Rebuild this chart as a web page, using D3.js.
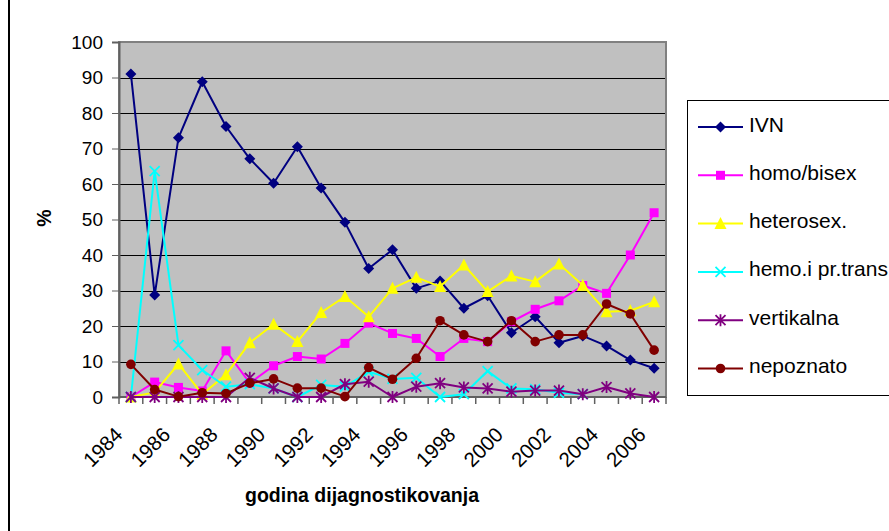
<!DOCTYPE html>
<html>
<head>
<meta charset="utf-8">
<script src="https://cdn.jsdelivr.net/npm/d3@7"></script>
<style>
  html, body { margin: 0; padding: 0; background: #fff; }
  svg { display: block; }
  text { font-family: "Liberation Sans", Arial, sans-serif; fill: #000; }
</style>
</head>
<body>
<svg id="chart" width="889" height="531"></svg>
<script>
const years = d3.range(1984, 2007);
const tickLabels = ["1984","1986","1988","1990","1992","1994","1996","1998","2000","2002","2004","2006"];
const yTicks = [0,10,20,30,40,50,60,70,80,90,100];

const ivn        = [91, 28.7, 73, 88.8, 76.2, 67.1, 60.2, 70.5, 58.9, 49.2, 36.2, 41.5, 30.6, 32.7, 25, 28.5, 18.1, 22.6, 15.3, 17.2, 14.4, 10.4, 8.1];
const homo       = [0, 4.2, 2.7, 1.7, 13, 3.9, 8.8, 11.4, 10.7, 15.1, 20.8, 17.9, 16.5, 11.4, 16.5, 15.6, 21.2, 24.7, 27.1, 31.4, 29.2, 40, 51.9];
const hetero     = [0, 1.3, 9.3, 0.8, 6.3, 15.3, 20.5, 15.6, 23.8, 28.3, 22.6, 30.6, 33.7, 31.1, 37.2, 29.7, 34.1, 32.5, 37.5, 31.5, 24, 24.3, 26.8];
const hemo       = [0, 63.6, 14.6, 7.6, 2.9, 3.6, 2.4, 0, 3.4, 2.9, 7.1, 5.1, 5.4, 0, 0.8, 7.3, 2.4, 2.2, 1.2, 0.8, null, null, null];
const vertikalna = [0, 0, 0, 0, 0, 5.4, 2.4, 0, 0, 3.6, 4.3, 0, 2.9, 3.9, 2.7, 2.4, 1.5, 1.8, 1.8, 0.8, 2.8, 1.0, 0];
const nepoznato  = [9.2, 2.1, 0.1, 1.2, 1.0, 3.9, 5.1, 2.5, 2.5, 0.1, 8.3, 5.0, 10.9, 21.5, 17.5, 15.6, 21.5, 15.6, 17.5, 17.5, 26.2, 23.4, 13.2];

const seriesNames = ["IVN", "homo/bisex", "heterosex.", "hemo.i pr.trans", "vertikalna", "nepoznato"];
const seriesData = [ivn, homo, hetero, hemo, vertikalna, nepoznato];
const colors = ["#000080", "#FF00FF", "#FFFF00", "#00FFFF", "#800080", "#800000"];
const markers = ["diamond", "square", "triangle", "x", "star", "circle"];

const svg = d3.select("#chart");
const pLeft = 119, pRight = 666, pTop = 42, pBottom = 397;

const x = d3.scaleBand().domain(years).range([pLeft, pRight]).padding(0);
const y = d3.scaleLinear().domain([0, 100]).range([pBottom, pTop]);
const cx = d => x(d) + x.bandwidth() / 2;

// outer frame line (left)
svg.append("line").attr("x1", 9).attr("x2", 9).attr("y1", 0).attr("y2", 531)
  .attr("stroke", "#000").attr("stroke-width", 2);

// plot area
svg.append("rect").attr("x", pLeft).attr("y", pTop).attr("width", pRight - pLeft).attr("height", pBottom - pTop)
  .attr("fill", "#C0C0C0");

// gridlines
svg.append("g").selectAll("line").data(yTicks.filter(v => v > 0 && v < 100)).join("line")
  .attr("x1", pLeft).attr("x2", pRight)
  .attr("y1", d => Math.round(y(d)) + 0.5).attr("y2", d => Math.round(y(d)) + 0.5)
  .attr("stroke", "#000").attr("stroke-width", 1);

// plot border
svg.append("rect").attr("x", pLeft).attr("y", pTop).attr("width", pRight - pLeft).attr("height", pBottom - pTop)
  .attr("fill", "none").attr("stroke", "#808080").attr("stroke-width", 2);

// y axis
const yAxis = d3.axisLeft(y).tickValues(yTicks).tickSize(7).tickPadding(9).tickFormat(d3.format("d"));
const gy = svg.append("g").attr("transform", `translate(${pLeft},0)`).call(yAxis);
gy.select(".domain").attr("stroke", "#606060").attr("stroke-width", 2);
gy.selectAll(".tick line").attr("stroke", "#606060");
gy.selectAll(".tick text").attr("font-size", "19px").attr("font-family", "Liberation Sans, Arial, sans-serif").attr("fill", "#000");

// x axis ticks at category boundaries
const boundaries = years.map(d => x(d)).concat([pRight]);
svg.append("g").selectAll("line").data(boundaries).join("line")
  .attr("x1", d => d).attr("x2", d => d).attr("y1", pBottom).attr("y2", pBottom + 7)
  .attr("stroke", "#606060").attr("stroke-width", 1.5);
svg.append("line").attr("x1", pLeft).attr("x2", pRight).attr("y1", pBottom).attr("y2", pBottom)
  .attr("stroke", "#606060").attr("stroke-width", 2);

// x labels
svg.append("g").selectAll("text").data(tickLabels).join("text")
  .attr("transform", d => `translate(${cx(+d) - 7},${pBottom + 39}) rotate(-45)`)
  .attr("text-anchor", "end")
  .attr("font-size", "20.5px")
  .text(d => d);

// axis titles
svg.append("text").attr("x", 362).attr("y", 502).attr("text-anchor", "middle")
  .attr("font-size", "19.5px").attr("font-weight", "bold").text("godina dijagnostikovanja");
svg.append("text").attr("transform", "translate(51,218) rotate(-90)").attr("text-anchor", "middle")
  .attr("font-size", "19.5px").attr("font-weight", "bold").text("%");

// marker drawing
function drawMarker(g, type, px, py, color) {
  if (type === "diamond") {
    const s = 5.5;
    g.append("path").attr("d", `M${px},${py - s}L${px + s},${py}L${px},${py + s}L${px - s},${py}Z`).attr("fill", color);
  } else if (type === "square") {
    const s = 4.5;
    g.append("rect").attr("x", px - s).attr("y", py - s).attr("width", 2 * s).attr("height", 2 * s).attr("fill", color);
  } else if (type === "triangle") {
    const s = 5.5;
    g.append("path").attr("d", `M${px},${py - s - 1}L${px + s + 0.5},${py + s}L${px - s - 0.5},${py + s}Z`).attr("fill", color);
  } else if (type === "circle") {
    g.append("circle").attr("cx", px).attr("cy", py).attr("r", 4.8).attr("fill", color);
  } else if (type === "x") {
    const s = 5;
    g.append("path").attr("d", `M${px - s},${py - s}L${px + s},${py + s}M${px - s},${py + s}L${px + s},${py - s}`)
      .attr("stroke", color).attr("stroke-width", 1.8).attr("fill", "none");
  } else if (type === "star") {
    const s = 5;
    g.append("path").attr("d", `M${px - s},${py - s}L${px + s},${py + s}M${px - s},${py + s}L${px + s},${py - s}M${px},${py - s - 1}L${px},${py + s + 1}`)
      .attr("stroke", color).attr("stroke-width", 1.8).attr("fill", "none");
  }
}

// series
const line = d3.line().defined(d => d.v !== null).x(d => cx(d.year)).y(d => y(d.v));
seriesData.forEach((vals, i) => {
  const pts = years.map((yr, j) => ({ year: yr, v: vals[j] }));
  const g = svg.append("g");
  g.append("path").datum(pts).attr("d", line).attr("fill", "none")
    .attr("stroke", colors[i]).attr("stroke-width", 2).attr("stroke-linejoin", "round");
  pts.filter(p => p.v !== null).forEach(p => drawMarker(g, markers[i], cx(p.year), y(p.v), colors[i]));
});

// legend
const lg = svg.append("g");
lg.append("rect").attr("x", 687.5).attr("y", 100.5).attr("width", 260).attr("height", 295)
  .attr("fill", "#fff").attr("stroke", "#000").attr("stroke-width", 1);
seriesNames.forEach((name, i) => {
  const ly = 127 + i * 48.3;
  lg.append("line").attr("x1", 698).attr("x2", 743).attr("y1", ly).attr("y2", ly)
    .attr("stroke", colors[i]).attr("stroke-width", 2);
  drawMarker(lg, markers[i], 720.5, ly, colors[i]);
  lg.append("text").attr("x", 749).attr("y", ly + 4.5).attr("font-size", "21px").text(name);
});
</script>
</body>
</html>
